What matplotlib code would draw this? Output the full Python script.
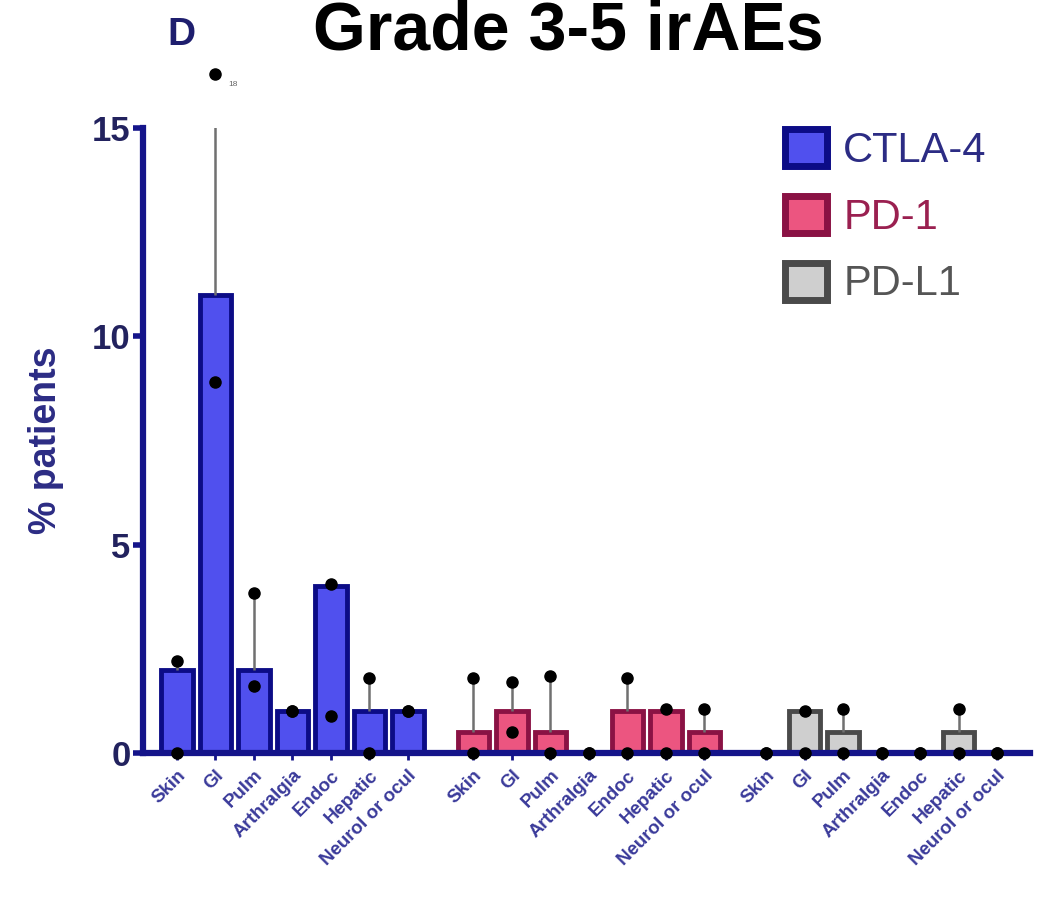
import numpy as np
from matplotlib import pyplot as plt

plt.rcParams['font.family'] = ['Liberation Sans', 'DejaVu Sans']

# organ categories, same order in every drug group
categories = ['Skin', 'GI', 'Pulm', 'Arthralgia', 'Endoc', 'Hepatic', 'Neurol or ocul']
groups = ['CTLA-4', 'PD-1', 'PD-L1']

# pooled % of patients (bar height)
ctla4_bar = [2.0, 11.0, 2.0, 1.0, 4.0, 1.0, 1.0]
pd1_bar = [0.5, 1.0, 0.5, 0.0, 1.0, 1.0, 0.5]
pdl1_bar = [0.0, 1.0, 0.5, 0.0, 0.0, 0.5, 0.0]

# individual study values (high / low point)
ctla4_hi = [2.2, 16.3, 3.85, 1.0, 4.05, 1.8, 1.0]
ctla4_lo = [0.0, 8.9, 1.6, 1.0, 0.9, 0.0, 1.0]
pd1_hi = [1.8, 1.7, 1.85, 0.0, 1.8, 1.05, 1.05]
pd1_lo = [0.0, 0.5, 0.0, 0.0, 0.0, 0.0, 0.0]
pdl1_hi = [0.0, 1.0, 1.05, 0.0, 0.0, 1.05, 0.0]
pdl1_lo = [0.0, 0.0, 0.0, 0.0, 0.0, 0.0, 0.0]

bars = [ctla4_bar, pd1_bar, pdl1_bar]
highs = [ctla4_hi, pd1_hi, pdl1_hi]
lows = [ctla4_lo, pd1_lo, pdl1_lo]

fills = ['#5050ee', '#ec5580', '#cfcfcf']
edges = ['#0c0c86', '#8a1244', '#4a4a4a']
textcols = ['#2c2c84', '#9a2050', '#555555']
navy = '#14148a'

fig = plt.figure(figsize=(10.37, 9), dpi=100)
ax = fig.add_axes([0.138, 0.1633, 0.855, 0.6944])

offsets = [0, 7.7, 15.3]
xs_all = []
labels_all = []
for g in range(3):
    x = np.arange(len(categories)) + offsets[g]
    b = np.array(bars[g])
    hi = np.array(highs[g])
    lo = np.array(lows[g])
    ax.bar(x, b, width=0.82, color=fills[g], edgecolor=edges[g], linewidth=3.5,
           label=groups[g], zorder=2)
    # range line from bar top up to the higher study value
    up = hi > b
    ax.vlines(x[up], b[up], hi[up], color='#707070', linewidth=1.8, zorder=3)
    ax.plot(x, hi, 'o', color='black', markersize=8, clip_on=False, zorder=4)
    ax.plot(x, lo, 'o', color='black', markersize=8, clip_on=False, zorder=4)
    xs_all += list(x)
    labels_all += categories

# note next to the GI point above the axis
ax.annotate('18', (1, ctla4_hi[1]), xytext=(9, -9), textcoords='offset points',
            fontsize=6, color='#666666', annotation_clip=False)

ax.set_xlim(-0.88, 22.15)
ax.set_ylim(0, 15)
ax.set_yticks([0, 5, 10, 15])
ax.set_xticks(xs_all)
ax.set_xticklabels(labels_all, rotation=45, ha='right', va='top',
                   rotation_mode='anchor', fontsize=13.5, fontweight='bold', color='#3a3a9a')
ax.tick_params(axis='y', length=7, width=4, color=navy, labelsize=25,
               labelcolor='#22225e', pad=2)
for t in ax.get_yticklabels():
    t.set_fontweight('bold')
ax.tick_params(axis='x', length=5, width=2, color=navy, pad=5)

ax.spines['top'].set_visible(False)
ax.spines['right'].set_visible(False)
ax.spines['left'].set_linewidth(4.5)
ax.spines['bottom'].set_linewidth(4.5)
ax.spines['left'].set_color(navy)
ax.spines['bottom'].set_color(navy)

ax.set_ylabel('% patients', fontsize=27, fontweight='bold', color='#2c2c84', labelpad=20)

leg = ax.legend(loc='upper left', bbox_to_anchor=(0.757, 0.857), bbox_transform=fig.transFigure,
                frameon=False, fontsize=30, handlelength=1.0, handleheight=1.0,
                handletextpad=0.4, labelspacing=0.6, borderpad=0, borderaxespad=0,
                labelcolor=textcols)
for p in leg.get_patches():
    p.set_linewidth(5)

fig.text(0.548, 0.945, 'Grade 3-5 irAEs', ha='center', va='baseline', fontsize=49,
         fontweight='bold', color='black')
fig.text(0.175, 0.95, 'D', ha='center', va='baseline', fontsize=28,
         fontweight='bold', color='#1e1e6e')

plt.savefig('out.png', dpi=100)
